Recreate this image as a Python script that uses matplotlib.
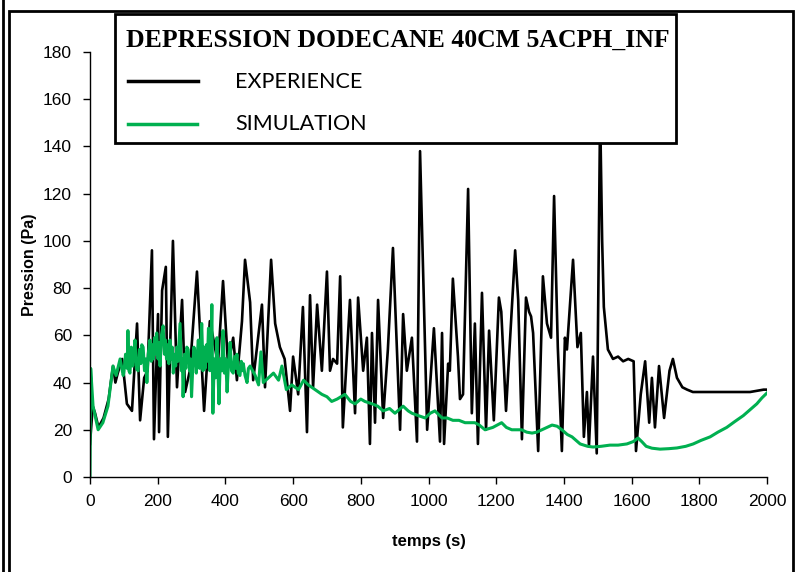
import matplotlib
matplotlib.use("Agg")
import matplotlib.pyplot as plt
from matplotlib.lines import Line2D
from matplotlib.patches import Rectangle

# experimental pressure (black)
exp_t = [0, 8, 15, 25, 40, 55, 68, 75, 82, 95, 109, 124, 139, 148, 160, 170,
         183, 189, 201, 204, 213, 224, 230, 245, 257, 272, 281, 295, 316, 337,
         354, 365, 378, 393, 408, 423, 434, 449, 458, 473, 482, 508, 517, 535,
         547, 561, 575, 591, 600, 615, 629, 641, 650, 659, 671, 685, 700, 709,
         718, 730, 739, 747, 768, 783, 792, 807, 818, 827, 833, 842, 851, 866,
         880, 895, 916, 925, 936, 951, 966, 975, 996, 1016, 1034, 1040, 1046,
         1058, 1063, 1072, 1087, 1093, 1102, 1117, 1128, 1137, 1146, 1158, 1170,
         1179, 1193, 1208, 1215, 1229, 1238, 1256, 1265, 1276, 1288, 1297, 1303,
         1309, 1324, 1338, 1350, 1362, 1371, 1382, 1394, 1403, 1409, 1427, 1440,
         1450, 1459, 1468, 1474, 1486, 1497, 1507, 1513, 1518, 1530, 1545, 1560,
         1575, 1590, 1606, 1613, 1627, 1640, 1652, 1660, 1669, 1681, 1696, 1712,
         1722, 1734, 1750, 1764, 1781, 1850, 1950, 1990, 2000]
exp_p = [14, 30, 27, 21, 25, 33, 47, 40, 44, 50, 31, 28, 65, 24, 42, 45,
         96, 16, 69, 19, 79, 89, 17, 100, 38, 75, 36, 45, 87, 28,
         66, 58, 48, 83, 47, 59, 41, 66, 92, 74, 41, 73, 38, 92,
         65, 55, 50, 28, 51, 35, 72, 19, 77, 38, 73, 45, 87, 45,
         50, 48, 85, 21, 75, 27, 76, 45, 59, 14, 61, 23, 75, 25,
         54, 97, 20, 69, 45, 59, 15, 138, 20, 63, 15, 61, 14,
         48, 45, 84, 51, 33, 35, 122, 27, 65, 14, 78, 20,
         62, 24, 76, 70, 28, 51, 96, 75, 16, 76, 70, 68,
         61, 11, 85, 65, 59, 119, 55, 11, 59, 54, 92, 55,
         61, 17, 36, 13, 51, 10, 155, 100, 72, 54, 50, 51,
         49, 50, 49, 11, 35, 49, 23, 42, 21, 47, 25, 45,
         50, 42, 38, 37, 36, 36, 36, 37, 37]

# simulated pressure (green)
sim_t = [0, 2, 9, 24, 38, 53, 68, 77, 89, 98,
         100, 105, 110, 112, 115, 118, 122, 126, 130, 133, 137, 142, 146, 150,
         153, 157, 161, 165, 168, 172, 177, 181, 184, 187, 191, 194, 197, 201,
         204, 207, 211, 216, 220, 223, 226, 230, 233, 236, 240, 243, 246, 250,
         253, 256, 260, 263, 266, 270, 273, 275, 279, 283, 286, 290, 294, 297,
         300, 304, 307, 310, 314, 317, 320, 324, 327, 330, 334, 337, 340, 344,
         347, 350, 354, 357, 360, 363, 367, 371, 375, 378, 381, 385, 389, 393,
         397, 401, 405, 409, 414, 418, 423, 427, 430, 434, 438, 443, 447, 450,
         453, 458, 464, 468, 473,
         488, 498, 505, 512, 527, 542, 557, 567, 580, 596, 616,
         631, 645, 665, 685, 700, 714, 730, 753, 770, 783, 800, 812, 833, 850,
         866, 885, 901, 925, 940, 951, 970, 990, 1005, 1019, 1040, 1055, 1072,
         1090, 1108, 1137, 1150, 1167, 1190, 1216, 1230, 1246, 1275, 1290, 1306,
         1320, 1335, 1350, 1365, 1380, 1394, 1410, 1424, 1448, 1470, 1486, 1510,
         1536, 1560, 1586, 1605, 1619, 1630, 1643, 1660, 1684, 1710, 1734, 1760,
         1782, 1805, 1832, 1855, 1881, 1905, 1930, 1950, 1970, 1985, 2000]
sim_p = [0, 46, 30, 20, 23, 30, 47, 43, 50, 43,
         44, 52, 46, 62, 45, 44, 55, 47, 53, 58, 46, 45, 54, 48,
         56, 55, 45, 50, 40, 52, 58, 49, 56, 50, 59, 52, 61, 50,
         57, 47, 60, 64, 52, 58, 50, 56, 48, 58, 50, 55, 44, 52,
         47, 55, 49, 57, 65, 45, 50, 34, 52, 46, 55, 54, 45, 50,
         34, 48, 55, 53, 44, 52, 58, 46, 54, 65, 45, 55, 46, 56,
         49, 63, 45, 52, 73, 27, 50, 42, 59, 45, 31, 50, 45, 62,
         44, 50, 36, 48, 57, 45, 44, 51, 46, 52, 44, 43, 49, 45,
         48, 43, 40, 46, 47,
         43, 39, 53, 40, 42, 44, 41, 47, 37, 39, 37,
         41, 39, 37, 35, 34, 32, 33, 35, 32, 31, 33, 32, 31, 30,
         28, 29, 27, 30, 28, 27, 26, 25, 27, 28, 25, 25, 24,
         24, 23, 23, 22, 20, 21, 23, 21, 20, 20, 19, 18.6,
         19, 20, 21, 22, 21.5, 20, 18, 17, 14, 13, 12.7, 13,
         13.5, 13.5, 14, 15, 16.5, 15, 13, 12.2, 11.8, 12, 12.3, 13,
         14, 15.5, 17, 19, 21, 23.5, 26, 28.5, 31, 33.5, 35.6]

x_ticks = list(range(0, 2001, 200))
y_ticks = list(range(0, 181, 20))

W, H = 800, 572


def fx(px):
    return px / W


def fy(py):
    return 1 - py / H


fig = plt.figure(figsize=(8, 5.72), dpi=100)
ax = fig.add_axes([fx(90), fy(477), fx(767) - fx(90), fy(52) - fy(477)])

ax.plot(exp_t, exp_p, color="black", lw=1.9)
ax.plot(sim_t, sim_p, color="#00B050", lw=2.2)

ax.set_xlim(0, 2000)
ax.set_ylim(0, 180)
ax.set_xticks(x_ticks)
ax.set_yticks(y_ticks)
for side in ("top", "right"):
    ax.spines[side].set_visible(False)
for side in ("left", "bottom"):
    ax.spines[side].set_linewidth(1.0)
ax.tick_params(direction="out", length=5, width=1, labelsize=12.5)
ax.tick_params(axis="y", pad=8)
ax.tick_params(axis="x", pad=7)
for lab in ax.get_xticklabels() + ax.get_yticklabels():
    lab.set_family("Liberation Sans")

ax.set_xlabel("temps (s)", fontsize=12, fontweight="bold",
              family="Liberation Sans", labelpad=18)
ax.set_ylabel("Pression (Pa)", fontsize=11.5, fontweight="bold",
              family="Liberation Sans", labelpad=4)

# outer frame like the spreadsheet screenshot
fig.add_artist(Rectangle((fx(9), fy(575)), fx(793) - fx(9), fy(11) - fy(575),
                         fill=False, lw=2, ec="black"))
fig.add_artist(Line2D([fx(3), fx(3)], [0, fy(0)], color="black", lw=2))

# legend box
fig.add_artist(Rectangle((fx(115), fy(143)), fx(676) - fx(115), fy(14) - fy(143),
                         fc="white", ec="black", lw=2, zorder=5))
fig.text(fx(398), fy(40), "DEPRESSION DODECANE 40CM 5ACPH_INF",
         family="Liberation Serif", fontweight="bold", fontsize=18.5,
         ha="center", va="center", zorder=6)
fig.add_artist(Line2D([fx(128), fx(198)], [fy(81), fy(81)],
                      color="black", lw=2.5, zorder=6))
fig.add_artist(Line2D([fx(128), fx(197)], [fy(124), fy(124)],
                      color="#00B050", lw=2.5, zorder=6))
fig.text(fx(235), fy(82), "EXPERIENCE", family="Lato", fontsize=15.5,
         ha="left", va="center", zorder=6)
fig.text(fx(235), fy(124), "SIMULATION", family="Lato", fontsize=15.5,
         ha="left", va="center", zorder=6)

fig.savefig("out.png", dpi=100)
